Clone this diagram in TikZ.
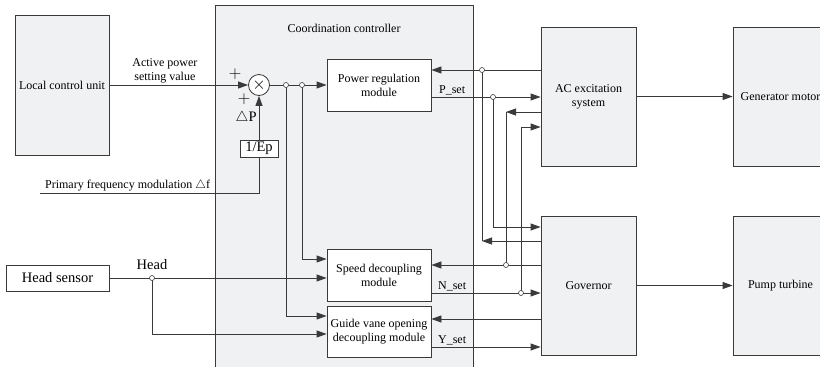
\documentclass[tikz,border=0pt]{standalone}
\usepackage{fontspec}
\setmainfont{Liberation Serif}
\usetikzlibrary{arrows.meta,positioning,calc}
\definecolor{panelgray}{HTML}{F0F1F3}
\definecolor{wirecol}{HTML}{3A3A3A}

\begin{document}
\begin{tikzpicture}[x=1pt,y=-1pt,
  font=\fontsize{12}{14}\selectfont,
  box/.style={draw=wirecol,line width=0.8pt,fill=panelgray,
    align=center,inner sep=2pt},
  module/.style={box,fill=white,minimum width=104pt,minimum height=52pt},
  unit/.style={box,minimum width=95pt,minimum height=139pt},
  flow/.style={-{Triangle[length=10pt,width=7pt]},draw=wirecol,line width=0.8pt},
  wire/.style={draw=wirecol,line width=0.8pt},
  tap/.style={circle,draw=wirecol,fill=white,line width=0.6pt,
    inner sep=0pt,minimum size=5pt},
  signal/.style={inner sep=1.5pt,align=center},
  sign/.style={inner sep=0pt,font=\fontsize{16}{16}\selectfont},
  bigtext/.style={font=\fontsize{14.5}{16}\selectfont}]
\useasboundingbox (0,0) rectangle (820,367);
\clip (0,0) rectangle (820,367);

\node[box,anchor=north west,minimum width=258pt,minimum height=390pt] (cc) at (215,5) {};
\node[anchor=north] (cctitle) at (344,21) {Coordination controller};
\node[box,minimum width=94pt,minimum height=140pt] (lcu) at (62,85) {Local control unit};
\node[circle,draw=wirecol,fill=white,line width=0.8pt,minimum size=21pt,inner sep=0pt]
  (sum) at (259,85) {\fontsize{18}{18}\selectfont$\times$};
\node[box,fill=white,bigtext,minimum width=38pt,minimum height=17pt,inner sep=1pt]
  (ep) at (259,148.5) {1/Ep};
\node[module] (prm) at (379,85) {Power regulation\\module};
\node[module] (sdm) at (379,275) {Speed decoupling\\module};
\node[module,minimum height=51pt] (gvm) at (379,331.5) {Guide vane opening\\decoupling module};
\node[box,fill=white,bigtext,minimum width=103pt,minimum height=26pt] (hs) at (57.5,278) {Head sensor};
\node[unit] (ace) at (588.5,96.5) {AC excitation\\system};
\node[unit] (gov) at (588.5,285.5) {Governor};
\node[unit] (gm) at (780.5,96.5) {Generator motor};
\node[unit] (pt) at (780.5,285.5) {Pump turbine};

% junctions
\coordinate (jt1) at (286,85);
\coordinate (jt2) at (302,85);
\coordinate (jth) at (152,278);
\coordinate (freqin) at (40,193);
\coordinate (ja) at (482,70);
\coordinate (jag) at (482,241);
\coordinate (jb) at (493,97);
\coordinate (jc0) at (506,112);
\coordinate (jc) at (506,265);
\coordinate (jd) at (521,293);

\draw[flow] (lcu.east)--node[signal,above,pos=0.4] (apv) {Active power\\setting value}(sum.west);
\node[sign] (plus1) at (235,74) {$+$};
\node[sign] (plus2) at (244,99) {$+$};
\draw[flow] (sum.east)--(prm.west);
\draw[flow] (ep.north)--node[left,bigtext,inner sep=2pt] (dp) {$\triangle$P}(sum.south);
\draw[wire] (freqin)--node[signal,above,pos=0.4] (pfm) {Primary frequency modulation $\triangle$f}
  (freqin -| ep.south)--(ep.south);

\draw[flow] (jt1) |- ([yshift=15.5pt]gvm.west);
\draw[flow] (jt2) |- ([yshift=16pt]sdm.west);
\draw[wire] (hs.east)--node[above=5pt,bigtext,pos=1] (head) {Head}(jth);
\draw[flow] (jth)--(jth -| sdm.west);
\draw[flow] (jth) |- ([yshift=-2.5pt]gvm.west);

\draw[flow] (ace.west |- ja)--(prm.east |- ja);
\draw[wire] (ja)--(jag);
\draw[flow] (gov.west |- jag)--(jag);
\draw[flow] (prm.east |- jb)--node[signal,above,pos=0.19] (pset) {P\_set}(ace.west |- jb);
\draw[flow] (jb) |- ([yshift=58.5pt]gov.west);
\draw[flow] (ace.west |- jc0)--(jc0);
\draw[wire] (jc0)--(jc);
\draw[flow] (gov.west |- jc)--(sdm.east |- jc);
\draw[flow] (sdm.east |- jd)--node[signal,above,pos=0.19] (nset) {N\_set}(gov.west |- jd);
\draw[flow] (jd) |- ([yshift=-30.5pt]ace.west);
\draw[flow] ([yshift=-33.5pt]gov.west)--([yshift=12.5pt]gvm.east);
\draw[flow] ([yshift=-15.5pt]gvm.east)--node[signal,above,pos=0.19] (yset) {Y\_set}([yshift=-61.5pt]gov.west);

\draw[flow] (ace.east)--(gm.west);
\draw[flow] (gov.east)--(pt.west);

\foreach \j in {jt1,jt2,jth,ja,jb,jc,jd}
  \node[tap] at (\j) {};
\end{tikzpicture}
\end{document}
